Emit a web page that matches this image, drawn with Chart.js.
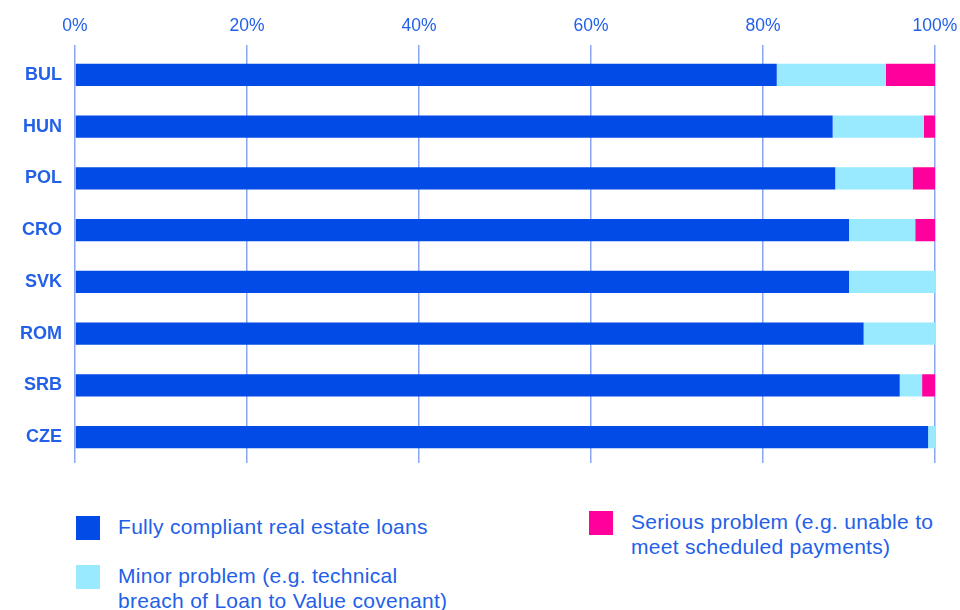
<!DOCTYPE html>
<html>
<head>
<meta charset="utf-8">
<script src="https://cdn.jsdelivr.net/npm/chart.js@4/dist/chart.umd.min.js"></script>
<style>
  body { margin: 0; background: #fff; font-family: "Liberation Sans", Arial, sans-serif; }
  #wrap { position: relative; width: 960px; height: 610px; }
  #chartBox { position: absolute; left: 0; top: 0; width: 960px; height: 470px; }
  .legend-item { position: absolute; display: flex; align-items: flex-start; color: #2360e8; font-size: 21px; line-height: 25px; letter-spacing: 0.3px; white-space: nowrap; }
  .legend-item .swatch { width: 24px; height: 24px; margin-top: 2px; margin-right: 18px; flex: none; }
</style>
</head>
<body>
<div id="wrap">
  <div id="chartBox"><canvas id="chart"></canvas></div>
  <div id="legend"></div>
</div>
<script>
// Real estate loan compliance by country (share of loans, %)
const countries = ['BUL', 'HUN', 'POL', 'CRO', 'SVK', 'ROM', 'SRB', 'CZE'];
const fullyCompliant = [81.6, 88.1, 88.4, 90.0, 90.0, 91.7, 95.9, 99.2];
const minorProblem = [12.7, 10.6, 9.0, 7.7, 10.0, 8.3, 2.6, 0.8];
const seriousProblem = [5.7, 1.3, 2.6, 2.3, 0, 0, 1.5, 0];
const tickValues = [0, 20, 40, 60, 80, 100];

const seriesNames = [
  'Fully compliant real estate loans',
  'Minor problem (e.g. technical breach of Loan to Value covenant)',
  'Serious problem (e.g. unable to meet scheduled payments)'
];
// legend text is wrapped the same way as in the original
const legendLines = [
  ['Fully compliant real estate loans'],
  ['Minor problem (e.g. technical', 'breach of Loan to Value covenant)'],
  ['Serious problem (e.g. unable to', 'meet scheduled payments)']
];
const colors = ['#034be6', '#99eafe', '#ff009c'];
const legendPos = [[76, 514], [76, 563], [589, 509]];

const textBlue = '#2360e8';
const fontFamily = '"Liberation Sans", Arial, sans-serif';

const ctx = document.getElementById('chart').getContext('2d');
const chart = new Chart(ctx, {
  type: 'bar',
  data: {
    labels: countries,
    datasets: [fullyCompliant, minorProblem, seriousProblem].map((vals, i) => ({
      label: seriesNames[i],
      data: vals,
      backgroundColor: colors[i],
      borderWidth: 0,
      categoryPercentage: 1,
      barPercentage: 0.43
    }))
  },
  options: {
    indexAxis: 'y',
    responsive: true,
    maintainAspectRatio: false,
    animation: false,
    layout: { padding: { left: 0, right: 25, top: 0, bottom: 7 } },
    plugins: { legend: { display: false }, tooltip: { enabled: false } },
    scales: {
      x: {
        position: 'top',
        stacked: true,
        min: 0,
        max: 100,
        afterBuildTicks: scale => { scale.ticks = tickValues.map(v => ({ value: v })); },
        afterFit: scale => {
          scale.height = 49;
          scale.paddingLeft = 0;
          scale.paddingRight = 0;
        },
        border: { display: false },
        grid: { color: '#8ba6f0', lineWidth: 1.5, tickLength: 4 },
        ticks: {
          color: textBlue,
          padding: 8,
          maxRotation: 0,
          font: { family: fontFamily, size: 17.5 },
          callback: v => v + '%'
        }
      },
      y: {
        stacked: true,
        afterFit: scale => {
          scale.width = 75;
          scale.paddingTop = 0;
          scale.paddingBottom = 0;
        },
        border: { display: false },
        grid: { display: false },
        ticks: {
          color: textBlue,
          padding: 5,
          font: { family: fontFamily, size: 18, weight: 'bold' }
        }
      }
    }
  }
});

// custom legend below the chart
const legend = document.getElementById('legend');
legendLines.forEach((lines, i) => {
  const item = document.createElement('div');
  item.className = 'legend-item';
  item.style.left = legendPos[i][0] + 'px';
  item.style.top = legendPos[i][1] + 'px';
  item.innerHTML = `<div class="swatch" style="background:${colors[i]}"></div><div>${lines.join('<br>')}</div>`;
  legend.appendChild(item);
});
</script>
</body>
</html>
